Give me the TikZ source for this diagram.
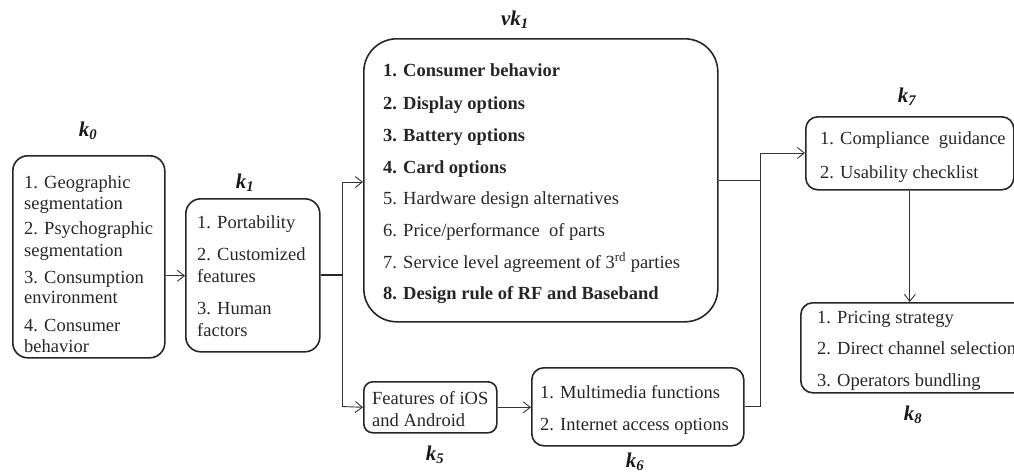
\documentclass[tikz,border=0pt]{standalone}
\usepackage{fontspec}
\setmainfont{Liberation Serif}
\usetikzlibrary{arrows.meta,calc}
\tikzset{
  box/.style={draw=black!85, line width=1.6pt, anchor=north west, inner sep=0pt},
  txt/.style={anchor=base west, inner sep=0pt, font=\fontsize{18.5}{21}\selectfont, text=black!85},
  btxt/.style={txt, font=\fontsize{18.5}{21}\selectfont\bfseries},
  lbl/.style={inner sep=0pt, font=\fontsize{21}{24}\selectfont\bfseries\itshape, text=black!90},
  conn/.style={draw=black!80, line width=0.9pt},
  heavy/.style={draw=black!85, line width=1.8pt},
  arr/.style={conn, -{Straight Barb[length=7pt,width=11pt,line width=0.9pt]}},
}
\begin{document}
\begin{tikzpicture}[x=1pt,y=-1pt]
\useasboundingbox (0,0) rectangle (1014,475);
\clip (0,0) rectangle (1014,475);

% ---- boxes ----
\node[box, rounded corners=15pt, minimum width=152pt, minimum height=202pt] (k0) at (12,155) {};
\node[box, rounded corners=15pt, minimum width=134pt, minimum height=153pt] (k1) at (185,198) {};
\node[box, rounded corners=33pt, minimum width=354pt, minimum height=283pt] (vk1) at (363,38) {};
\node[box, rounded corners=9pt, minimum width=133pt, minimum height=51pt] (k5) at (363,381) {};
\node[box, rounded corners=12pt, minimum width=212pt, minimum height=78pt] (k6) at (531,367) {};
\node[box, rounded corners=12pt, minimum width=208pt, minimum height=73pt] (k7) at (805,116) {};
\node[box, rounded corners=12pt, minimum width=240pt, minimum height=90pt] (k8) at (800,302) {};

% ---- labels ----
\node[lbl] (l0) at (88,131) {k\textsubscript{0}};
\node[lbl] (l1) at (245,183) {k\textsubscript{1}};
\node[lbl] (lv1) at (515,20) {vk\textsubscript{1}};
\node[lbl] (l7) at (907,97) {k\textsubscript{7}};
\node[lbl] (l5) at (435,455) {k\textsubscript{5}};
\node[lbl] (l6) at (635,462) {k\textsubscript{6}};
\node[lbl] (l8) at (913,415) {k\textsubscript{8}};

% ---- k0 contents ----
\node[txt] (t0a) at (24,188) {1. Geographic};
\node[txt] (t0b) at (24,209) {segmentation};
\node[txt] (t0c) at (24,234) {2. Psychographic};
\node[txt] (t0d) at (24,256) {segmentation};
\node[txt] (t0e) at (24,283) {3. Consumption};
\node[txt] (t0f) at (24,303) {environment};
\node[txt] (t0g) at (24,331) {4. Consumer};
\node[txt] (t0h) at (24,352) {behavior};

% ---- k1 contents ----
\node[txt] (t1a) at (197,228) {1. Portability};
\node[txt] (t1b) at (197,260) {2. Customized};
\node[txt] (t1c) at (197,282) {features};
\node[txt] (t1d) at (197,314) {3. Human};
\node[txt] (t1e) at (197,336) {factors};

% ---- vk1 contents ----
\node[btxt] (tv1) at (383,76) {1. Consumer behavior};
\node[btxt] (tv2) at (383,109) {2. Display options};
\node[btxt] (tv3) at (383,141) {3. Battery options};
\node[btxt] (tv4) at (383,173) {4. Card options};
\node[txt] (tv5) at (383,204) {5. Hardware design alternatives};
\node[txt] (tv6) at (383,236) {6. Price/performance~ of parts};
\node[txt] (tv7) at (383,268) {7. Service level agreement of 3\textsuperscript{rd} parties};
\node[btxt] (tv8) at (383,299) {8. Design rule of RF and Baseband};

% ---- k5, k6 contents ----
\node[txt] (t5a) at (372,404) {Features of iOS};
\node[txt] (t5b) at (372,426) {and Android};
\node[txt] (t6a) at (540,398) {1. Multimedia functions};
\node[txt] (t6b) at (540,430) {2. Internet access options};

% ---- k7, k8 contents ----
\node[txt] (t7a) at (820,144) {1. Compliance~ guidance};
\node[txt] (t7b) at (820,178) {2. Usability checklist};
\node[txt] (t8a) at (817,323) {1. Pricing strategy};
\node[txt] (t8b) at (817,354) {2. Direct channel selection};
\node[txt] (t8c) at (817,386) {3. Operators bundling};

% ---- junction points ----
\coordinate (jtop) at (342,182);
\coordinate (jbot) at (342,406.5);
\coordinate (m) at (760,153);

% ---- connectors ----
\draw[arr] ([yshift=-19pt]k0.east) coordinate (p0) -- (p0 -| k1.west);
\draw[heavy] (k1.east) -- (k1.east -| jtop);
\draw[conn] (jtop) -- (jbot);
\draw[arr] (jtop) -- (jtop -| vk1.west);
\draw[arr] (jbot) -- (k5.west);
\draw[arr] (k5.east) -- (k5.east -| k6.west);
\draw[conn] (vk1.east) -- (vk1.east -| m);
\draw[arr] (k6.east) -- (k6.east -| m) -- (m) -- (m -| k7.west);
\draw[arr] (k7.south) -- (k7.south |- k8.north);
\end{tikzpicture}
\end{document}
